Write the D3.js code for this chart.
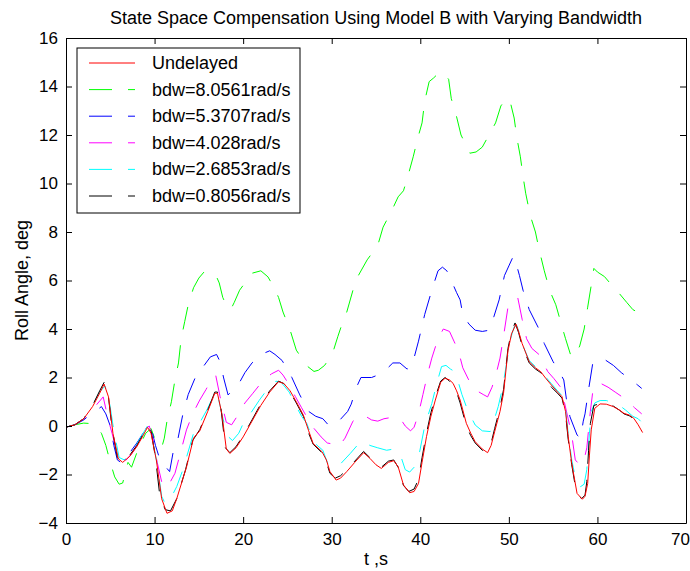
<!DOCTYPE html>
<html lang="en">
<head>
    <meta charset="UTF-8">
    <script src="https://d3js.org/d3.v7.min.js"></script>
    <title>State Space Compensation Using Model B</title>
    <style>
        body { margin: 0; background: #fff; }
        text { font-family: "Liberation Sans", Arial, sans-serif; fill: #000; }
    </style>
</head>
<body>
    <script>
        // [t (s), roll angle (deg)]
        var undelayed = [[0,-0.05],[1,0.05],[2,0.3],[3,0.8],[3.8,1.35],[4.3,1.73],[4.8,1.2],[5.3,-0.3],[5.9,-1.35],[6.4,-1.5],[7.2,-1.25],[8,-0.85],[8.7,-0.4],[9.2,-0.05],[9.6,-0.3],[10.2,-1.4],[10.8,-3.0],[11.4,-3.6],[12.0,-3.5],[12.5,-3.0],[13.6,-1.7],[14.4,-0.5],[15.1,-0.2],[16.0,0.6],[16.8,1.35],[17.1,1.35],[17.6,0.5],[18.1,-0.95],[18.5,-1.13],[19.2,-0.9],[20.0,-0.45],[21.0,0.2],[22.0,0.85],[23.0,1.4],[24.0,1.83],[24.6,1.75],[25.3,1.45],[26.0,1.0],[26.8,0.45],[27.4,-0.2],[27.9,-0.72],[28.9,-1.06],[29.4,-1.4],[29.8,-1.88],[30.5,-2.23],[31.0,-2.15],[31.7,-1.88],[32.6,-1.5],[33.6,-1.1],[34.3,-1.33],[35.0,-1.6],[35.6,-1.75],[36.4,-1.5],[37.0,-1.43],[37.5,-1.68],[38.1,-2.43],[38.8,-2.75],[39.3,-2.7],[39.8,-2.37],[40.2,-1.5],[40.7,-0.44],[41.2,0.4],[41.7,1.07],[42.3,1.8],[42.8,1.97],[43.3,1.9],[43.7,1.76],[44.1,1.45],[44.5,1.07],[45.2,0.11],[45.7,-0.3],[46.2,-0.65],[47.0,-0.95],[47.6,-1.1],[48.0,-0.8],[48.4,-0.23],[49.0,0.6],[49.4,1.35],[49.9,3.1],[50.3,3.8],[50.8,4.2],[51.1,3.9],[51.5,3.4],[52.3,2.65],[53.0,2.4],[53.6,2.24],[54.2,1.95],[54.8,1.69],[55.5,1.4],[56.0,1.21],[56.4,0.6],[56.7,-0.44],[57.1,-1.54],[57.7,-2.78],[58.3,-3.02],[58.6,-2.9],[58.9,-2.37],[59.1,-1.2],[59.3,-0.16],[59.7,0.73],[60.3,0.91],[61.0,0.9],[61.8,0.8],[62.5,0.65],[63.0,0.52],[63.6,0.45],[64.1,0.32],[64.6,0.05],[65.1,-0.27]];

        var bdw80561 = [[0,-0.05],[1,0.05],[2,0.12],[2.8,0.1],[3.5,-0.05],[4.0,-0.3],[4.5,-0.8],[5.0,-1.5],[5.5,-2.1],[6.0,-2.4],[6.4,-2.35],[7.0,-1.5],[7.4,-1.7],[8.2,-0.9],[9.0,-0.3],[9.6,-0.1],[10.0,-0.5],[10.8,-0.9],[11.1,-0.5],[11.4,0.2],[11.9,1.0],[12.3,1.9],[12.7,2.6],[13.0,3.6],[13.4,4.3],[13.8,5.0],[14.4,5.7],[15.0,6.1],[15.7,6.4],[16.3,6.3],[17.0,6.15],[17.3,5.9],[17.7,5.3],[18.2,4.9],[18.6,4.8],[19.0,5.1],[19.6,5.6],[20.3,5.95],[21.0,6.3],[22.0,6.4],[22.8,6.15],[23.5,5.7],[24.0,5.3],[24.5,4.7],[25.3,3.96],[26.0,3.13],[26.6,2.8],[27.3,2.45],[28.0,2.25],[28.5,2.3],[29.2,2.5],[30.1,3.0],[30.7,3.7],[31.3,4.35],[31.7,4.7],[32.4,5.6],[33.0,6.2],[34.0,6.85],[34.5,7.1],[35.2,7.45],[35.8,8.2],[36.8,8.9],[37.5,9.45],[38.1,9.7],[38.6,10.3],[39.2,11.1],[39.7,11.85],[40.2,12.5],[40.5,13.4],[41.0,14.2],[41.5,14.35],[42.2,14.6],[42.6,14.55],[43.2,14.3],[43.5,13.5],[44.1,12.75],[44.6,12.0],[45.0,11.7],[45.6,11.25],[46.3,11.3],[47.0,11.5],[47.9,12.1],[48.5,12.5],[49.1,13.2],[49.7,13.5],[50.1,13.45],[50.6,12.7],[50.9,11.9],[51.3,11.1],[51.6,10.3],[51.9,9.6],[52.4,8.7],[53.0,8.0],[53.4,7.3],[54.0,6.4],[54.6,5.6],[55.3,5.0],[56.0,4.1],[56.4,3.6],[57.0,2.9],[57.4,2.85],[58.0,3.3],[58.5,4.0],[58.9,4.9],[59.3,5.8],[59.6,6.5],[60.0,6.35],[60.8,6.16],[61.4,5.9],[62.5,5.45],[63.3,5.1],[64.0,4.8],[65.0,4.6]];

        var bdw53707 = [[0,-0.05],[1,0.05],[2,0.25],[3,0.55],[3.5,0.66],[4.0,0.8],[4.5,0.5],[5.0,0.0],[5.4,-0.8],[5.8,-1.4],[6.2,-1.5],[7.0,-1.2],[8.0,-0.7],[8.7,-0.3],[9.3,0.0],[9.7,-0.2],[10.1,-0.8],[10.7,-1.5],[11.4,-1.75],[11.7,-1.88],[12.1,-1.07],[12.6,-0.6],[13.2,0.5],[13.8,1.3],[14.6,2.0],[14.9,2.2],[15.6,2.5],[16.3,2.85],[17.0,2.95],[17.4,2.65],[17.8,1.98],[18.3,1.28],[18.9,1.5],[19.6,1.8],[20.2,2.2],[21.0,2.6],[22.0,2.95],[23.0,3.1],[23.6,2.95],[24.4,2.7],[25.5,2.0],[26.4,1.28],[27.4,0.6],[28.2,0.4],[29.0,0.3],[29.6,0.05],[30.1,0.0],[30.8,0.2],[31.8,0.6],[32.2,0.9],[32.8,1.6],[33.3,2.0],[34.5,2.0],[35.2,2.1],[36.2,2.35],[36.9,2.6],[37.7,2.6],[38.5,2.35],[39.0,2.4],[39.8,3.5],[40.5,4.6],[41.3,5.6],[42.0,6.4],[42.5,6.55],[43.0,6.4],[43.5,6.0],[44.1,5.5],[44.5,5.2],[44.8,4.6],[45.5,4.2],[46.2,3.95],[47.0,3.9],[47.8,3.95],[48.3,4.5],[48.9,5.2],[49.5,6.2],[50.0,6.6],[50.5,7.0],[50.9,6.6],[51.2,6.2],[51.6,5.6],[52.3,4.8],[53.4,4.0],[54.0,3.4],[55.0,2.65],[55.6,2.3],[56.2,1.9],[56.5,1.1],[56.9,0.38],[57.7,-0.37],[58.1,-0.5],[58.4,0.2],[58.6,0.5],[59.0,1.5],[59.5,2.65],[60.0,2.75],[60.9,2.72],[61.8,2.5],[62.7,2.2],[63.6,1.95],[64.5,1.7],[65.0,1.55]];

        var bdw4028 = [[0,-0.05],[1,0.05],[2,0.3],[3,0.65],[3.5,0.9],[4.2,1.2],[4.75,0.3],[5.2,-0.3],[5.7,-1.0],[6.2,-1.35],[6.8,-1.4],[7.5,-1.1],[8.3,-0.6],[9.0,-0.1],[9.4,0.0],[9.8,-0.5],[10.3,-1.5],[10.8,-2.3],[11.4,-2.56],[12.3,-1.95],[13.0,-1.0],[13.6,-0.16],[14.3,0.5],[15.1,1.07],[15.8,1.5],[16.4,1.9],[16.9,2.1],[17.4,1.2],[18.1,0.15],[18.7,0.05],[19.5,0.5],[20.2,0.95],[21.1,1.35],[22.3,1.9],[23.2,2.15],[24.0,2.3],[24.5,2.1],[25.2,1.7],[25.9,1.21],[26.6,0.75],[27.3,0.3],[28.0,-0.1],[28.8,-0.45],[29.5,-0.7],[30.2,-0.75],[30.8,-0.85],[31.5,-0.5],[32.4,0.2],[33.0,0.4],[33.6,0.45],[34.5,0.25],[35.2,0.2],[35.9,0.3],[36.7,0.35],[37.7,0.33],[38.3,0.0],[38.9,-0.2],[39.3,-0.05],[39.8,0.5],[40.3,1.3],[40.8,2.1],[41.3,2.8],[42.0,3.6],[42.6,4.0],[43.3,3.9],[43.8,3.5],[44.3,3.1],[44.8,2.4],[45.6,1.8],[46.4,1.45],[47.1,1.3],[47.6,1.2],[48.1,1.6],[48.6,2.2],[49.0,2.8],[49.4,3.7],[49.9,4.9],[50.5,5.2],[51.0,5.3],[51.5,4.4],[52.0,3.6],[52.6,3.2],[53.4,2.95],[54.4,2.24],[55.1,1.95],[55.8,1.62],[56.2,1.1],[56.6,0.45],[57.1,-0.37],[57.5,-1.4],[58.0,-1.6],[58.4,-1.55],[58.8,-0.9],[59.2,0.6],[59.5,1.5],[59.9,1.75],[60.4,1.75],[61.2,1.6],[62.0,1.4],[62.8,1.2],[63.5,1.0],[64.2,0.75],[65.0,0.5]];

        var bdw26853 = [[0,-0.05],[1,0.05],[2,0.3],[3,0.85],[3.8,1.4],[4.4,1.65],[4.9,1.0],[5.4,-0.2],[6.0,-1.3],[6.6,-1.4],[7.3,-1.1],[8,-0.75],[8.7,-0.3],[9.2,0.0],[9.7,-0.4],[10.3,-1.6],[10.8,-2.9],[11.2,-3.2],[11.8,-3.0],[12.5,-2.5],[13.2,-1.8],[14.4,-0.3],[15.2,0.2],[15.9,0.66],[16.8,1.35],[17.1,1.3],[17.6,0.5],[18.2,-0.4],[18.8,-0.6],[19.5,-0.3],[20.0,0.1],[20.8,0.5],[21.8,1.05],[22.8,1.55],[23.7,1.85],[24.3,1.8],[25.2,1.4],[26.0,0.8],[26.6,0.4],[27.2,0.1],[27.7,-0.4],[28.3,-0.78],[29.0,-1.0],[29.5,-1.5],[30.0,-1.7],[30.9,-1.6],[32.1,-1.13],[33.0,-0.75],[33.6,-0.6],[34.3,-0.8],[35.2,-0.9],[36.2,-1.0],[37.0,-0.95],[37.7,-1.13],[38.3,-1.8],[38.8,-1.9],[39.3,-1.7],[39.8,-1.3],[40.5,0.0],[41.3,0.93],[41.9,1.8],[42.4,2.45],[42.9,2.5],[43.4,2.35],[43.9,2.24],[44.3,1.8],[44.7,1.3],[45.4,0.6],[46.2,0.04],[47.0,-0.2],[47.9,-0.23],[48.3,0.2],[48.8,0.8],[49.3,1.6],[49.8,2.72],[50.2,3.6],[50.6,4.1],[50.9,4.15],[51.2,3.8],[51.6,3.3],[52.3,2.7],[53.0,2.45],[53.6,2.3],[54.2,2.0],[54.8,1.75],[55.5,1.45],[56.0,1.25],[56.4,0.7],[56.7,-0.3],[57.1,-1.4],[57.6,-2.3],[58.1,-2.5],[58.5,-2.4],[58.8,-1.8],[59.1,-0.3],[59.3,0.59],[59.7,0.95],[60.3,1.05],[61.0,1.05],[61.8,0.95],[62.5,0.85],[63.2,0.65],[64.0,0.4],[64.6,0.3],[65.0,0.15]];

        var bdw08056 = [[0,-0.05],[1,0.05],[2,0.3],[3,0.85],[3.8,1.45],[4.3,1.8],[4.7,1.5],[5.2,-0.1],[5.8,-1.3],[6.3,-1.5],[7.2,-1.2],[8,-0.8],[8.7,-0.35],[9.2,0.0],[9.6,-0.2],[10.1,-1.3],[10.6,-2.9],[11.2,-3.45],[11.8,-3.5],[12.5,-3.0],[13.5,-1.8],[14.3,-0.6],[15.1,-0.15],[16.0,0.65],[16.8,1.4],[17.1,1.4],[17.5,0.7],[18.0,-0.9],[18.5,-1.1],[19.2,-0.85],[20.0,-0.4],[21.0,0.25],[21.9,0.85],[23.0,1.45],[24.0,1.85],[24.6,1.75],[25.3,1.4],[26.0,0.95],[26.8,0.4],[27.4,-0.3],[27.9,-0.75],[28.9,-1.1],[29.4,-1.5],[29.8,-1.95],[30.4,-2.15],[31.0,-2.05],[31.7,-1.8],[32.6,-1.45],[33.6,-1.05],[34.3,-1.3],[35.0,-1.55],[35.6,-1.7],[36.4,-1.45],[37.0,-1.4],[37.5,-1.7],[38.1,-2.45],[38.7,-2.7],[39.3,-2.6],[39.8,-2.2],[40.2,-1.3],[40.7,-0.3],[41.2,0.55],[41.7,1.2],[42.3,1.85],[42.8,2.0],[43.3,1.85],[43.7,1.7],[44.1,1.4],[44.5,0.95],[45.2,0.0],[45.7,-0.4],[46.2,-0.7],[47.0,-1.0],[47.5,-1.05],[48.0,-0.7],[48.4,-0.1],[49.0,0.75],[49.4,1.5],[49.9,3.2],[50.3,3.9],[50.7,4.25],[51.1,3.85],[51.5,3.3],[52.3,2.6],[53.0,2.35],[53.6,2.2],[54.2,1.9],[54.8,1.6],[55.5,1.35],[56.0,1.15],[56.4,0.5],[56.7,-0.55],[57.1,-1.6],[57.6,-2.7],[58.2,-3.0],[58.6,-2.85],[58.8,-2.3],[59.0,-1.0],[59.2,0.1],[59.6,0.85],[60.3,0.92],[61.0,0.92],[61.8,0.82],[62.5,0.65],[63.0,0.5],[63.6,0.42],[64.1,0.3],[64.6,0.0],[65.0,-0.2]];

        var seriesNames = ["Undelayed","bdw=8.0561rad/s","bdw=5.3707rad/s","bdw=4.028rad/s","bdw=2.6853rad/s","bdw=0.8056rad/s"];
        var seriesData = [undelayed, bdw80561, bdw53707, bdw4028, bdw26853, bdw08056];
        var seriesColors = ["#ff0000","#00ff00","#0000ff","#ff00ff","#00ffff","#000000"];
        var xTicks = [0,10,20,30,40,50,60,70];
        var yTicks = [-4,-2,0,2,4,6,8,10,12,14,16];

        var W = 690, H = 571;
        var plotL = 66, plotR = 686, plotT = 38, plotB = 523;

        var svg = d3.select("body").append("svg").attr("width",W).attr("height",H);

        var x = d3.scaleLinear().domain([0,70]).range([plotL,plotR]);
        var y = d3.scaleLinear().domain([-4,16]).range([plotB,plotT]);

        svg.append("clipPath").attr("id","plotclip").append("rect")
            .attr("x",plotL).attr("y",plotT).attr("width",plotR-plotL).attr("height",plotB-plotT);

        var line = d3.line().x(d=>x(d[0])).y(d=>y(d[1]));

        // delayed series first, undelayed drawn on top
        var order = [1,2,3,4,5,0];
        svg.append("g").attr("clip-path","url(#plotclip)")
            .selectAll("path").data(order).join("path")
            .attr("d",i=>line(seriesData[i]))
            .attr("fill","none")
            .attr("stroke",i=>seriesColors[i])
            .attr("stroke-width",1)
            .attr("stroke-dasharray",i=> i==0 ? null : "23,16");

        // axes box with inward ticks
        var axB = svg.append("g").attr("transform","translate(0,"+plotB+")")
            .call(d3.axisBottom(x).tickValues(xTicks).tickSizeInner(-6).tickSizeOuter(0).tickPadding(10));
        svg.append("g").attr("transform","translate(0,"+plotT+")")
            .call(d3.axisTop(x).tickValues(xTicks).tickSizeInner(-6).tickSizeOuter(0).tickFormat(""));
        svg.append("g").attr("transform","translate("+plotL+",0)")
            .call(d3.axisLeft(y).tickValues(yTicks).tickSizeInner(-6).tickSizeOuter(0).tickPadding(8));
        svg.append("g").attr("transform","translate("+plotR+",0)")
            .call(d3.axisRight(y).tickValues(yTicks).tickSizeInner(-6).tickSizeOuter(0).tickFormat(""));

        svg.selectAll(".domain").attr("stroke","#000").attr("stroke-width",1);
        svg.selectAll(".tick line").attr("stroke","#000");
        svg.selectAll(".tick text").style("font-size","17px").style("font-family","'Liberation Sans', Arial, sans-serif");
        // last x label sits at the window edge, nudge it in
        axB.selectAll(".tick text").filter(d=>d==70).attr("dx",-6);

        // title and labels
        svg.append("text").attr("x",(plotL+plotR)/2).attr("y",24).attr("text-anchor","middle")
            .style("font-size","18px").text("State Space Compensation Using Model B with Varying Bandwidth");
        svg.append("text").attr("x",(plotL+plotR)/2).attr("y",565).attr("text-anchor","middle")
            .style("font-size","18px").text("t ,s");
        svg.append("text").attr("transform","translate(28,"+((plotT+plotB)/2)+") rotate(-90)")
            .attr("text-anchor","middle").style("font-size","18px").text("Roll Angle, deg");

        // legend
        var lg = svg.append("g");
        lg.append("rect").attr("x",77).attr("y",48).attr("width",223).attr("height",165)
            .attr("fill","#fff").attr("stroke","#000").attr("stroke-width",1);
        var items = lg.selectAll("g.item").data(seriesNames).join("g").attr("class","item")
            .attr("transform",(d,i)=>"translate(0,"+(63+i*26.6)+")");
        items.append("line").attr("x1",89).attr("x2",135).attr("y1",0).attr("y2",0)
            .attr("stroke",(d,i)=>seriesColors[i]).attr("stroke-width",1)
            .attr("stroke-dasharray",(d,i)=> i==0 ? null : "23,16");
        items.append("text").attr("x",152).attr("y",6).style("font-size","18px").text(d=>d);
    </script>
</body>
</html>
